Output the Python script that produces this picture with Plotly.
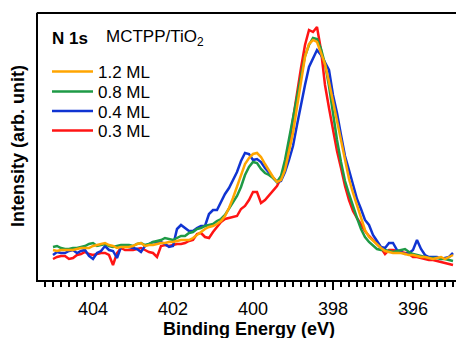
import plotly.graph_objects as go

# Binding energy grid (eV)
energy = [405.0, 404.9, 404.8, 404.7, 404.6, 404.5, 404.4, 404.3, 404.2, 404.1,
          404.0, 403.9, 403.8, 403.7, 403.6, 403.5, 403.4, 403.3, 403.2, 403.1,
          403.0, 402.9, 402.8, 402.7, 402.6, 402.5, 402.4, 402.3, 402.2, 402.1,
          402.0, 401.9, 401.8, 401.7, 401.6, 401.5, 401.4, 401.3, 401.2, 401.1,
          401.0, 400.9, 400.8, 400.7, 400.6, 400.5, 400.4, 400.3, 400.2, 400.1,
          400.0, 399.9, 399.8, 399.7, 399.6, 399.5, 399.4, 399.3, 399.2, 399.1,
          399.0, 398.9, 398.8, 398.7, 398.6, 398.5, 398.4, 398.3, 398.2, 398.1,
          398.0, 397.9, 397.8, 397.7, 397.6, 397.5, 397.4, 397.3, 397.2, 397.1,
          397.0, 396.9, 396.8, 396.7, 396.6, 396.5, 396.4, 396.3, 396.2, 396.1,
          396.0, 395.9, 395.8, 395.7, 395.6, 395.5, 395.4, 395.3, 395.2, 395.1,
          395.0]

int_12ML = [30, 29, 30, 30, 30, 30, 31, 32, 32, 32,
            34, 35, 36, 37, 35, 34, 32, 33, 33, 33,
            34, 36, 37, 34, 35, 35, 36, 37, 37, 38,
            38, 39, 40, 40, 40, 42, 45, 48, 51, 53,
            54, 56, 59, 64, 72, 82, 94, 106, 116, 122,
            126, 127, 123, 116, 109, 103, 98, 100, 110, 128,
            147, 173, 200, 223, 236, 240, 238, 228, 216, 198,
            179, 160, 142, 120, 101, 87, 74, 61, 50, 43,
            39, 35, 32, 29, 28, 27, 27, 27, 26, 25,
            25, 24, 23, 23, 22, 21, 22, 23, 21, 23,
            25]

int_08ML = [33, 34, 32, 31, 31, 32, 32, 33, 34, 36,
            37, 34, 35, 36, 34, 33, 34, 35, 35, 35,
            34, 36, 37, 35, 36, 38, 39, 40, 42, 41,
            40, 42, 44, 44, 47, 48, 51, 52, 54, 55,
            56, 59, 61, 65, 71, 77, 84, 93, 105, 113,
            118, 117, 111, 107, 105, 102, 98, 104, 120, 141,
            163, 182, 204, 224, 235, 242, 241, 231, 216, 194,
            166, 140, 118, 99, 86, 73, 62, 51, 43, 38,
            34, 31, 30, 30, 29, 28, 29, 30, 31, 28,
            26, 25, 24, 23, 22, 22, 22, 21, 21, 20,
            19]

int_04ML = [25, 28, 27, 27, 29, 30, 27, 29, 30, 24,
            21, 27, 29, 34, 30, 29, 22, 33, 34, 33,
            32, 31, 28, 34, 36, 38, 37, 38, 36, 33,
            34, 51, 55, 52, 49, 49, 52, 54, 54, 66,
            70, 70, 78, 86, 92, 100, 108, 119, 127, 126,
            120, 121, 118, 112, 107, 102, 98, 99, 108, 120,
            134, 155, 176, 195, 213, 222, 230, 225, 217, 210,
            185, 167, 145, 124, 110, 94, 81, 71, 60, 55,
            45, 39, 33, 32, 37, 37, 30, 28, 26, 27,
            30, 40, 31, 25, 23, 23, 23, 21, 22, 23,
            27]

int_03ML = [21, 23, 24, 24, 21, 22, 25, 26, 28, 26,
            25, 26, 27, 27, 25, 15, 27, 32, 30, 30,
            30, 31, 32, 30, 28, 27, 23, 34, 35, 34,
            35, 36, 36, 37, 39, 40, 46, 47, 43, 42,
            48, 53, 58, 61, 62, 63, 64, 71, 74, 80,
            88, 88, 77, 80, 85, 89, 94, 102, 115, 135,
            162, 188, 212, 235, 250, 248, 253, 230, 195, 172,
            150, 129, 112, 94, 80, 69, 62, 55, 49, 44,
            40, 36, 32, 26, 30, 30, 29, 28, 27, 26,
            23, 23, 22, 21, 20, 20, 19, 18, 17, 16,
            15]

series_names = ["1.2 ML", "0.8 ML", "0.4 ML", "0.3 ML"]
series_colors = ["#FFA500", "#1E9A46", "#1034D2", "#FF1414"]
series_values = [int_12ML, int_08ML, int_04ML, int_03ML]

tick_vals = [404, 402, 400, 398, 396]
tick_text = ["404", "402", "400", "398", "396"]

FONT = "Liberation Sans, Arial, sans-serif"

# The page body has an 8 px margin; plot area in the window spans
# x 38..464 and y 13..280, i.e. figure coords shifted by 8 px.
PL, PT, PW, PH = 30, 5, 426, 267


def px(xw):  # window x -> paper x
    return (xw - 38) / PW


def py(yw):  # window y -> paper y
    return (280 - yw) / PH


legend_ids = ["legend", "legend2", "legend3", "legend4"]
legend_rows = [72, 92, 111.5, 131]

fig = go.Figure()
# draw red first, orange last (orange on top)
order = [3, 2, 1, 0]
for k in order:
    fig.add_trace(go.Scatter(x=energy, y=series_values[k], mode="lines",
                             name=series_names[k], legend=legend_ids[k],
                             line=dict(color=series_colors[k], width=2.5)))

legend_layout = {}
for k, lid in enumerate(legend_ids):
    legend_layout[lid] = dict(x=px(47), y=py(legend_rows[k]), xanchor="left",
                              yanchor="middle", bgcolor="rgba(0,0,0,0)",
                              font=dict(size=17, family=FONT), itemwidth=41)

fig.update_layout(
    width=464, height=338,
    margin=dict(l=PL, r=464 - PL - PW, t=PT, b=338 - PT - PH),
    paper_bgcolor="white", plot_bgcolor="white",
    font=dict(family=FONT, color="black", size=17),
    showlegend=True,
    xaxis=dict(range=[405.375, 394.725], showgrid=False, zeroline=False,
               showline=True, linecolor="black", linewidth=2, mirror=False,
               ticks="outside", ticklen=8, tickwidth=2, tickcolor="black",
               tickmode="array", tickvals=tick_vals, ticktext=tick_text,
               ticklabelstandoff=3,
               tickfont=dict(size=18, family=FONT),
               minor=dict(ticks="outside", ticklen=5, tickwidth=2,
                          tickcolor="black", tick0=0, dtick=0.2)),
    yaxis=dict(range=[0, 267], showgrid=False, zeroline=False,
               showline=True, linecolor="black", linewidth=2,
               showticklabels=False, ticks=""),
    shapes=[dict(type="line", xref="paper", yref="paper", x0=-0.003, x1=1.02,
                 y0=1, y1=1, line=dict(color="black", width=2), layer="above")],
    annotations=[
        dict(text="<b>N 1s</b>", xref="paper", yref="paper",
             x=px(50), y=py(38), xanchor="left", yanchor="middle",
             showarrow=False, font=dict(size=17, family=FONT)),
        dict(text="MCTPP/TiO<sub>2</sub>", xref="paper", yref="paper",
             x=px(104), y=py(38), xanchor="left", yanchor="middle",
             showarrow=False, font=dict(size=17, family=FONT)),
        dict(text="<b>Binding Energy (eV)</b>", xref="paper", yref="paper",
             x=px(249), y=py(329), xanchor="center", yanchor="middle",
             showarrow=False, font=dict(size=18, family=FONT)),
        dict(text="<b>Intensity (arb. unit)</b>", xref="paper", yref="paper",
             x=px(18), y=py(146), xanchor="center", yanchor="middle",
             textangle=-90, showarrow=False, font=dict(size=18, family=FONT)),
    ],
)
for k, lid in enumerate(legend_ids):
    fig.layout[lid] = legend_layout[lid]

fig.write_html("out.html")
